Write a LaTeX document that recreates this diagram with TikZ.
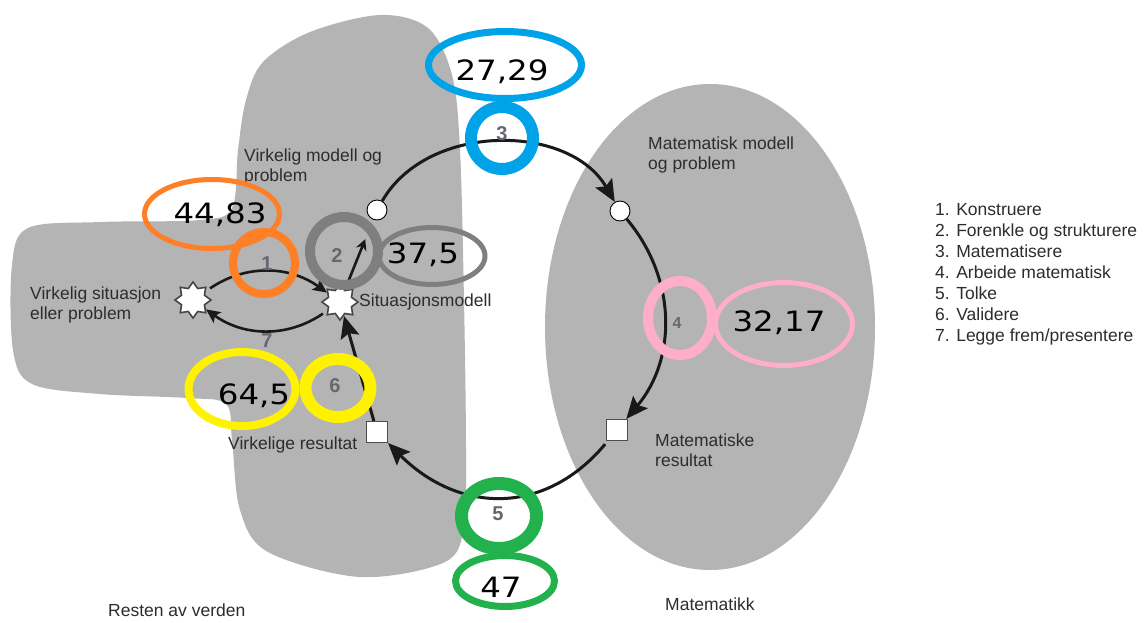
\documentclass[tikz,border=0pt]{standalone}
\usepackage{fontspec}
\setmainfont{Liberation Sans}
\newfontfamily\numfont[FakeStretch=1.16]{DejaVu Sans}
\usetikzlibrary{shapes.geometric,arrows.meta}

\definecolor{blobgray}{RGB}{180,180,180}
\definecolor{textgray}{RGB}{45,45,45}
\definecolor{stepgray}{RGB}{100,104,112}
\definecolor{ringorange}{RGB}{255,127,39}
\definecolor{ringblue}{RGB}{0,162,232}
\definecolor{ringgray}{RGB}{127,127,127}
\definecolor{ringyellow}{RGB}{255,242,0}
\definecolor{ringgreen}{RGB}{34,177,76}
\definecolor{ringpink}{RGB}{255,174,201}

\begin{document}
\begin{tikzpicture}[x=1pt,y=1pt,
  lbl/.style={anchor=north west, inner sep=0, text=textgray, align=left,
              font=\fontsize{17.5}{20}\selectfont},
  steplbl/.style={anchor=base, inner sep=0, text=stepgray,
              font=\fontsize{20}{20}\selectfont\bfseries},
  numlbl/.style={anchor=base, inner sep=0, text=black,
              font=\fontsize{28}{28}\numfont},
  ring/.style={ellipse, inner sep=0, fill=none},
  stargraph/.style={star, star points=8, star point ratio=1.45, minimum size=36pt,
              inner sep=0, fill=white, draw=gray!55!black, line width=1.6pt},
  dotnode/.style={circle, minimum size=20pt, inner sep=0, fill=white, draw=black, line width=0.9pt},
  boxnode/.style={rectangle, minimum size=21pt, inner sep=0, fill=white, draw=gray!60!black, line width=1.1pt},
  cyc/.style={line width=3pt, draw=black!90, -{Stealth[length=22pt,width=19pt,inset=4pt]}},
  smallcyc/.style={line width=2.6pt, draw=black!90, -{Stealth[length=14pt,width=13pt,inset=3pt]}}
]
\useasboundingbox (0,0) rectangle (1146,-622);
\fill[white] (0,0) rectangle (1146,-622);

% the real world: tall region with a lobe to the left
\fill[blobgray] plot[smooth cycle, tension=0.55] coordinates {
  (380,-15) (428,-28) (452,-75) (460,-150) (464,-300) (466,-450) (464,-525)
  (445,-562) (360,-577) (268,-552) (240,-510) (232,-440) (226,-404)
  (187,-398) (100,-394) (32,-384) (13,-350) (12,-265) (28,-228) (100,-222)
  (200,-220) (232,-208) (238,-150) (246,-100) (263,-62) (310,-32)};

% mathematics
\fill[blobgray] (710,-327) ellipse [x radius=165pt, y radius=243pt];

% region and state labels
\node[lbl] (tvm) at (244,-149) {Virkelig modell og\\problem};
\node[lbl] (tmm) at (648,-137) {Matematisk modell\\og problem};
\node[lbl] (tvs) at (30,-287) {Virkelig situasjon\\eller problem};
\node[lbl] (tsm) at (359,-294) {Situasjonsmodell};
\node[lbl] (tvr) at (228,-437) {Virkelige resultat};
\node[lbl] (tmr) at (655,-434) {Matematiske\\resultat};
\node[lbl] (trv) at (108,-604) {Resten av verden};
\node[lbl] (tmk) at (665,-598) {Matematikk};

% legend
\node[lbl, font=\fontsize{17.5}{21}\selectfont] (legend) at (935,-203) {%
  1. Konstruere\\2. Forenkle og strukturere\\3. Matematisere\\4. Arbeide matematisk\\%
  5. Tolke\\6. Validere\\7. Legge frem/presentere};

% states of the cycle
\node[stargraph] (S1) at (193,-300) {};
\node[stargraph] (S2) at (340,-302) {};
\node[dotnode] (A) at (377,-210) {};
\node[dotnode] (B) at (620,-211) {};
\node[boxnode] (C) at (617,-430) {};
\node[boxnode] (D) at (377,-432) {};

% transitions
\draw[smallcyc, shorten <=5pt] (S1) to[bend left=35] (S2);
\draw[smallcyc, shorten <=5pt] (S2) to[bend left=35] (S1);
\draw[smallcyc, -{Stealth[length=11pt,width=11pt]}, shorten >=21pt] (S2) -- (A);
\draw[cyc] (A) to[out=60,in=120] (B);
\draw[cyc] (B) to[out=-50,in=50] (C);
\draw[cyc, shorten <=4pt] (C) to[out=-130,in=-45,looseness=1.15] (D);
\draw[cyc] (D) -- (S2);

% step rings and their numbers
\node[ring, draw=ringorange, line width=8pt, minimum width=62pt, minimum height=62pt] (r1) at (264,-263) {};
\node[ring, draw=ringgray, line width=10pt, minimum width=68pt, minimum height=68pt] (r2) at (344,-251) {};
\node[ring, draw=ringblue, line width=12pt, minimum width=62pt, minimum height=62pt] (r3) at (502,-138) {};
\node[ring, draw=ringpink, line width=10pt, minimum width=64pt, minimum height=74pt] (r4) at (680,-318) {};
\node[ring, draw=ringgreen, line width=13pt, minimum width=75pt, minimum height=65pt] (r5) at (499,-516) {};
\node[ring, draw=ringyellow, line width=12pt, minimum width=65pt, minimum height=58pt] (r6) at (338,-388) {};

\node[steplbl] (n1) at (267,-270) {1};
\node[steplbl] (n2) at (337,-262) {2};
\node[steplbl] (n3) at (502,-140) {3};
\node[steplbl, font=\fontsize{16}{16}\selectfont\bfseries] (n4) at (677,-328) {4};
\node[steplbl] (n5) at (498,-520) {5};
\node[steplbl] (n6) at (335,-392) {6};
\node[steplbl] (n7) at (267,-347) {7};

% score ellipses
\node[ring, draw=ringorange, line width=5pt, minimum width=135pt, minimum height=69pt] (e1) at (212,-214) {};
\node[ring, draw=ringgray, line width=5pt, minimum width=106pt, minimum height=57pt] (e2) at (432,-256) {};
\node[ring, draw=ringblue, line width=7pt, minimum width=153pt, minimum height=67pt] (e3) at (505,-65) {};
\node[ring, draw=ringpink, line width=5pt, minimum width=137pt, minimum height=83pt] (e4) at (784,-324) {};
\node[ring, draw=ringgreen, line width=7pt, minimum width=99pt, minimum height=51pt] (e5) at (505,-581) {};
\node[ring, draw=ringyellow, line width=8pt, minimum width=107pt, minimum height=74pt] (e6) at (242,-389) {};

\node[numlbl] (v1) at (220,-223) {44,83};
\node[numlbl] (v2) at (423,-263) {37,5};
\node[numlbl] (v3) at (502,-80) {27,29};
\node[numlbl] (v4) at (779,-331) {32,17};
\node[numlbl] (v5) at (501,-597) {47};
\node[numlbl] (v6) at (254,-404) {64,5};
\end{tikzpicture}
\end{document}
